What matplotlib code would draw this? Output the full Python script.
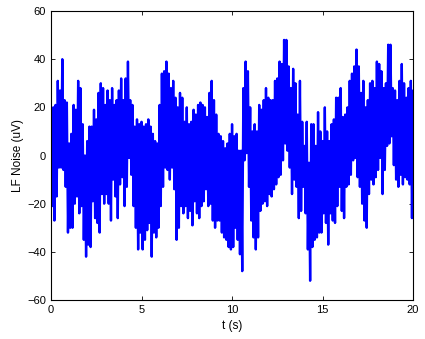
import numpy as np
import matplotlib
matplotlib.use("Agg")
import matplotlib.pyplot as plt

# envelope of the noise trace, every 0.125 s (one row = 1 s)
t = np.arange(161) * 0.125
upper = [15, 20, 21, 31, 27, 40, 23, 22,
         5, 9, 21, 19, 31, 28, 13, 0,
         6, 12, 12, 19, 15, 26, 30, 28,
         21, 27, 23, 28, 21, 23, 27, 32,
         23, 32, 39, 23, 21, 12, 15, 13,
         14, 12, 13, 15, 12, 9, 6, 5,
         21, 34, 35, 39, 34, 28, 31, 24,
         20, 26, 24, 14, 20, 13, 14, 19,
         17, 21, 22, 21, 20, 16, 26, 31,
         23, 17, 9, 8, 6, 3, 5, 9,
         13, 8, 9, 2, 2, 28, 39, 35,
         20, 10, 13, 10, 21, 19, 23, 28,
         24, 23, 23, 31, 32, 39, 38, 48,
         48, 37, 28, 36, 30, 17, 31, 14,
         4, 14, -3, 13, 13, 4, 18, 10,
         6, 20, 10, 6, 13, 15, 24, 24,
         28, 16, 17, 20, 31, 34, 37, 44,
         37, 26, 31, 20, 23, 30, 31, 28,
         39, 38, 35, 28, 30, 46, 46, 28,
         27, 23, 31, 38, 30, 24, 28, 31,
         27]
lower = [-21, -27, -17, -5, -5, -6, -13, -32,
         -30, -30, -20, -17, -24, -21, -35, -42,
         -37, -38, -19, -26, -28, -32, -16, -20,
         -16, -20, -27, -10, -17, -26, -12, -9,
         -21, -13, -1, -8, -21, -30, -39, -32,
         -39, -35, -31, -28, -42, -32, -34, -30,
         -21, -13, -5, -6, -10, -5, -14, -35,
         -30, -21, -24, -21, -26, -23, -29, -19,
         -24, -26, -21, -19, -14, -21, -20, -27,
         -30, -27, -27, -32, -34, -35, -38, -39,
         -38, -30, -35, -41, -48, -2, 1, -13,
         -27, -34, -39, -34, -23, -20, -19, -21,
         -16, -17, -14, -12, -9, -8, -2, 5,
         2, -5, -16, -10, -13, -26, -23, -13,
         -24, -39, -52, -38, -35, -34, -32, -32,
         -24, -28, -37, -24, -27, -28, -21, -13,
         -23, -26, -13, -12, -8, -2, -1, -9,
         -13, -20, -27, -30, -16, -10, -12, -9,
         -6, -1, -16, -6, 4, 5, 8, -4,
         -10, -13, -8, -12, -9, -10, -12, -26,
         -13]

# trace swings between the two envelopes
x = np.column_stack([t, t + 0.0625]).ravel()
y = np.column_stack([upper, lower]).ravel()

plt.rcParams['font.family'] = ['Liberation Sans', 'DejaVu Sans']
fig = plt.figure(figsize=(4.25, 3.39), dpi=100)
ax = fig.add_axes([0.12, 0.115, 0.852, 0.8525])
ax.plot(x, y, color=(0, 0, 1), linewidth=1.7)

ax.set_xlim(0, 20)
ax.set_ylim(-60, 60)
ax.set_xticks([0, 5, 10, 15, 20])
ax.set_yticks([-60, -40, -20, 0, 20, 40, 60])
ax.tick_params(direction='in', top=True, right=True, labelsize=8, length=3, width=0.6)
for s in ax.spines.values():
    s.set_linewidth(0.8)
ax.set_xlabel('t (s)', fontsize=8.5, labelpad=4)
ax.set_ylabel('LF Noise (uV)', fontsize=8.5, labelpad=2)

fig.savefig('out.png', dpi=100)
